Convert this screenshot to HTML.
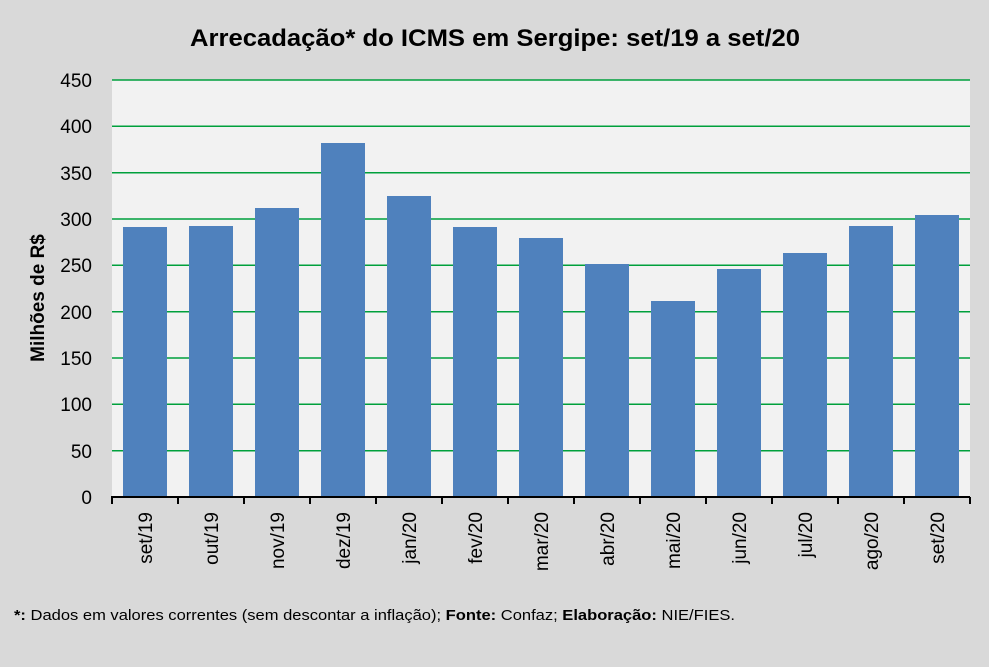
<!DOCTYPE html>
<html><head><meta charset="utf-8"><style>body{margin:0;background:#d9d9d9}</style></head><body>
<svg width="989" height="662" xmlns="http://www.w3.org/2000/svg" font-family="Liberation Sans, sans-serif">
<rect width="989" height="662" fill="#d9d9d9"/>
<rect x="112" y="80" width="858" height="417" fill="#f2f2f2"/>
<text x="190" y="46" textLength="610" lengthAdjust="spacingAndGlyphs" font-size="24" font-weight="bold" fill="#000">Arrecadação* do ICMS em Sergipe: set/19 a set/20</text>
<g stroke="#00a03c" stroke-width="1.5">
<line x1="112" x2="970" y1="80" y2="80"/><line x1="112" x2="970" y1="126.3" y2="126.3"/><line x1="112" x2="970" y1="172.7" y2="172.7"/><line x1="112" x2="970" y1="219" y2="219"/><line x1="112" x2="970" y1="265.3" y2="265.3"/><line x1="112" x2="970" y1="311.7" y2="311.7"/><line x1="112" x2="970" y1="358" y2="358"/><line x1="112" x2="970" y1="404.3" y2="404.3"/><line x1="112" x2="970" y1="450.7" y2="450.7"/>
</g>
<g fill="#4f81bd">
<rect x="123" y="227" width="44" height="270"/><rect x="189" y="226" width="44" height="271"/><rect x="255" y="208" width="44" height="289"/><rect x="321" y="143" width="44" height="354"/><rect x="387" y="196" width="44" height="301"/><rect x="453" y="227" width="44" height="270"/><rect x="519" y="238" width="44" height="259"/><rect x="585" y="264" width="44" height="233"/><rect x="651" y="301" width="44" height="196"/><rect x="717" y="269" width="44" height="228"/><rect x="783" y="253" width="44" height="244"/><rect x="849" y="226" width="44" height="271"/><rect x="915" y="215" width="44" height="282"/>
</g>
<g stroke="#000" stroke-width="2">
<line x1="111" x2="970" y1="497" y2="497"/>
<line x1="112" x2="112" y1="497" y2="504"/><line x1="178" x2="178" y1="497" y2="504"/><line x1="244" x2="244" y1="497" y2="504"/><line x1="310" x2="310" y1="497" y2="504"/><line x1="376" x2="376" y1="497" y2="504"/><line x1="442" x2="442" y1="497" y2="504"/><line x1="508" x2="508" y1="497" y2="504"/><line x1="574" x2="574" y1="497" y2="504"/><line x1="640" x2="640" y1="497" y2="504"/><line x1="706" x2="706" y1="497" y2="504"/><line x1="772" x2="772" y1="497" y2="504"/><line x1="838" x2="838" y1="497" y2="504"/><line x1="904" x2="904" y1="497" y2="504"/><line x1="970" x2="970" y1="497" y2="504"/>
</g>
<g font-size="19" text-anchor="end" fill="#000">
<text x="92" y="87">450</text><text x="92" y="133">400</text><text x="92" y="180">350</text><text x="92" y="226">300</text><text x="92" y="272">250</text><text x="92" y="319">200</text><text x="92" y="365">150</text><text x="92" y="411">100</text><text x="92" y="458">50</text><text x="92" y="504">0</text>
</g>
<text transform="translate(44,298) rotate(-90)" text-anchor="middle" font-size="19" font-weight="bold">Milhões de R$</text>
<g font-size="19" text-anchor="end" fill="#000">
<text transform="translate(152,512) rotate(-90)">set/19</text>
<text transform="translate(218,512) rotate(-90)">out/19</text>
<text transform="translate(284,512) rotate(-90)">nov/19</text>
<text transform="translate(350,512) rotate(-90)">dez/19</text>
<text transform="translate(416,512) rotate(-90)">jan/20</text>
<text transform="translate(482,512) rotate(-90)">fev/20</text>
<text transform="translate(548,512) rotate(-90)">mar/20</text>
<text transform="translate(614,512) rotate(-90)">abr/20</text>
<text transform="translate(680,512) rotate(-90)">mai/20</text>
<text transform="translate(746,512) rotate(-90)">jun/20</text>
<text transform="translate(812,512) rotate(-90)">jul/20</text>
<text transform="translate(878,512) rotate(-90)">ago/20</text>
<text transform="translate(944,512) rotate(-90)">set/20</text>
</g>
<text x="14" y="620" font-size="15" textLength="721" lengthAdjust="spacingAndGlyphs"><tspan font-weight="bold">*:</tspan> Dados em valores correntes (sem descontar a inflação); <tspan font-weight="bold">Fonte:</tspan> Confaz; <tspan font-weight="bold">Elaboração:</tspan> NIE/FIES.</text>
</svg>
</body></html>
